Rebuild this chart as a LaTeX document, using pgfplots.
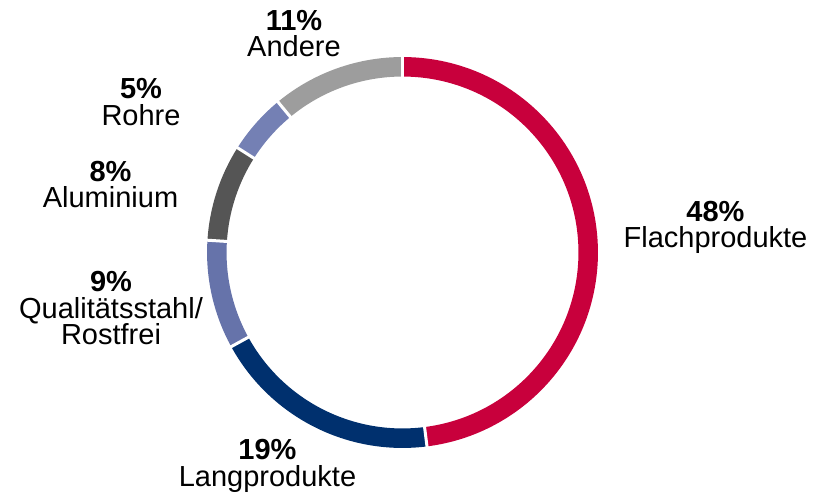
\documentclass[border=0pt]{standalone}
\usepackage{pgfplots}
\pgfplotsset{compat=1.18}
\usepackage{pgfplotstable}
\usepackage{fontspec}
\setmainfont{Liberation Sans}
\definecolor{cFlach}{RGB}{200,0,60}
\definecolor{cLang}{RGB}{0,48,110}
\definecolor{cQual}{RGB}{102,115,170}
\definecolor{cAlu}{RGB}{85,85,85}
\definecolor{cRohre}{RGB}{116,128,180}
\definecolor{cAndere}{RGB}{157,157,157}
\pgfplotstableread[col sep=comma]{
name,pct,color
Flachprodukte,48,cFlach
Langprodukte,19,cLang
Qualitaetsstahl,9,cQual
Aluminium,8,cAlu
Rohre,5,cRohre
Andere,11,cAndere
}\donutdata
\def\cum{0}
\pgfplotsforeachungrouped \i in {0,...,5}{%
  \pgfplotstablegetelem{\i}{pct}\of\donutdata
  \let\p\pgfplotsretval
  \pgfmathsetmacro\a{90-3.6*\cum}%
  \pgfmathsetmacro\cum{\cum+\p}%
  \pgfmathsetmacro\b{90-3.6*\cum}%
  \expandafter\xdef\csname segA\i\endcsname{\a}%
  \expandafter\xdef\csname segB\i\endcsname{\b}%
  \pgfplotstablegetelem{\i}{color}\of\donutdata
  \expandafter\xdef\csname segC\i\endcsname{\pgfplotsretval}%
}
\newcommand\lab{\fontsize{29bp}{26.5bp}\selectfont}
\begin{document}
\begin{tikzpicture}
\begin{axis}[hide axis, scale only axis, width=815bp, height=493bp,
  xmin=0, xmax=815, ymin=0, ymax=493, clip=false, enlargelimits=false]
\path (axis cs:0,0) rectangle (axis cs:815,493);
\pgfplotsinvokeforeach{0,...,5}{%
  \edef\tmp{\noexpand\draw[line width=19.5bp, draw=\csname segC#1\endcsname]
    (axis cs:{402.5+185.7*cos(\csname segA#1\endcsname)},{240.5+185.7*sin(\csname segA#1\endcsname)})
    arc[start angle=\csname segA#1\endcsname, end angle=\csname segB#1\endcsname, radius=185.7];}\tmp
}
\pgfplotsinvokeforeach{0,...,5}{%
  \edef\tmp{\noexpand\draw[white, line width=3bp]
    (axis cs:{402.5+174*cos(\csname segA#1\endcsname)},{240.5+174*sin(\csname segA#1\endcsname)}) --
    (axis cs:{402.5+198*cos(\csname segA#1\endcsname)},{240.5+198*sin(\csname segA#1\endcsname)});}\tmp
}
\tikzset{lbl/.style={anchor=base, inner sep=0pt, align=center, font=\lab}}
\node[lbl] at (axis cs:294,436) {{\bfseries 11\%}\\Andere};
\node[lbl] at (axis cs:141,367.5) {{\bfseries 5\%}\\Rohre};
\node[lbl] at (axis cs:110.5,285) {{\bfseries 8\%}\\Aluminium};
\node[lbl] at (axis cs:111,148) {{\bfseries 9\%}\\Qualitätsstahl/\\Rostfrei};
\node[lbl] at (axis cs:267.5,7) {{\bfseries 19\%}\\Langprodukte};
\node[lbl] at (axis cs:715.5,245) {{\bfseries 48\%}\\Flachprodukte};
\end{axis}
\end{tikzpicture}
\end{document}
